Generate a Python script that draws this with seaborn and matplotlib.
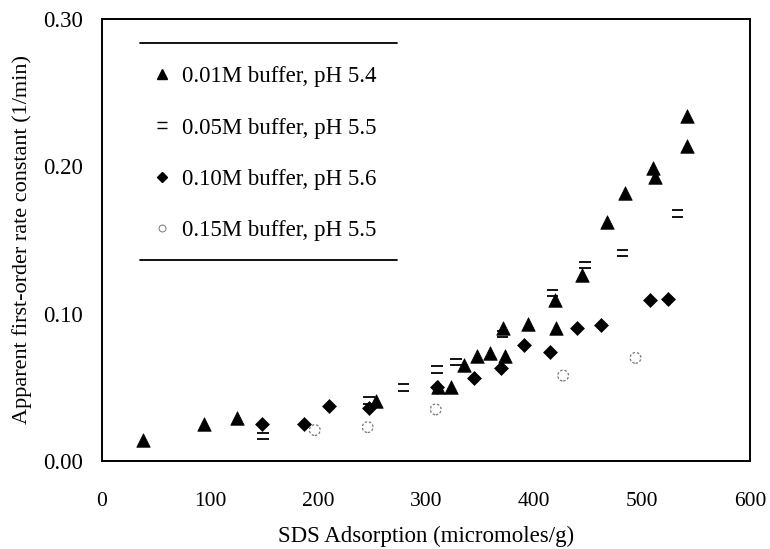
import numpy as np
import pandas as pd
import matplotlib
matplotlib.use("Agg")
import matplotlib.pyplot as plt
from matplotlib.path import Path
from matplotlib.lines import Line2D
from matplotlib.ticker import MultipleLocator, FormatStrFormatter
import seaborn as sns

# ---- data ----
tri_x = [38, 94, 125, 254, 311, 323, 335, 347, 359, 373, 371, 394, 419, 420, 444, 468, 484, 510, 512, 542, 542]
tri_y = [0.014, 0.025, 0.029, 0.041, 0.050, 0.050, 0.065, 0.071, 0.073, 0.071, 0.090, 0.093, 0.109, 0.090, 0.126, 0.162, 0.182, 0.199, 0.193, 0.234, 0.214]

sq_x = [149, 247, 279, 310, 328, 371, 417, 447, 482, 533]
sq_y = [0.017, 0.041, 0.050, 0.062, 0.067, 0.086, 0.114, 0.133, 0.141, 0.168]

dia_x = [148, 187, 210, 247, 310, 344, 369, 391, 415, 440, 462, 507, 524]
dia_y = [0.025, 0.025, 0.037, 0.036, 0.050, 0.056, 0.063, 0.079, 0.074, 0.090, 0.092, 0.109, 0.110]
dia_err = [0, 0.003, 0, 0, 0, 0, 0, 0, 0, 0, 0, 0, 0]

cir_x = [197, 246, 309, 427, 494]
cir_y = [0.021, 0.023, 0.035, 0.058, 0.070]

labels = ["0.01M buffer, pH 5.4", "0.05M buffer, pH 5.5",
          "0.10M buffer, pH 5.6", "0.15M buffer, pH 5.5"]
xticks = [0, 100, 200, 300, 400, 500, 600]
yticks = [0.00, 0.10, 0.20, 0.30]

sns.set_theme(style="white")
plt.rcParams["font.family"] = ["Liberation Serif", "DejaVu Serif"]

fig = plt.figure(figsize=(7.7, 5.49), dpi=100)
ax = fig.add_axes([102/770, 1-461/549, 648/770, 442/549])

eq_marker = Path([(-1, 0.55), (1, 0.55), (-1, -0.55), (1, -0.55)],
                 [Path.MOVETO, Path.LINETO, Path.MOVETO, Path.LINETO])

sns.scatterplot(x=tri_x, y=tri_y, marker="^", s=95, color="black",
                edgecolor="black", linewidth=0.5, ax=ax, zorder=3)
sns.scatterplot(x=sq_x, y=sq_y, marker=eq_marker, s=70, facecolor="none",
                edgecolor="black", linewidth=1.3, ax=ax, zorder=3)
ax.errorbar(dia_x, dia_y, yerr=dia_err, fmt="none", ecolor="black",
            elinewidth=1.2, capsize=0, zorder=2)
sns.scatterplot(x=dia_x, y=dia_y, marker="D", s=50, color="black",
                edgecolor="black", linewidth=0.5, ax=ax, zorder=3)
sns.scatterplot(x=cir_x, y=cir_y, marker="o", s=60, facecolor="none",
                edgecolor="#777777", linewidth=0.9, linestyle=(0, (2, 1.5)),
                ax=ax, zorder=3)

ax.set_xlim(0, 600)
ax.set_ylim(0, 0.30)
ax.set_xticks(xticks)
ax.set_yticks(yticks)
ax.yaxis.set_major_formatter(FormatStrFormatter("%.2f"))
ax.xaxis.set_minor_locator(MultipleLocator(20))
ax.yaxis.set_minor_locator(MultipleLocator(0.02))
ax.tick_params(axis="both", which="both", direction="in", color="black",
               labelcolor="black")
ax.tick_params(axis="both", which="major", length=5, width=1.1)
ax.tick_params(axis="both", which="minor", length=4, width=1.0)
ax.tick_params(axis="y", which="major", pad=14, labelsize=16.5)
ax.tick_params(axis="x", which="major", pad=22, labelsize=15.5)
for sp in ax.spines.values():
    sp.set_visible(True)
    sp.set_color("black")
    sp.set_linewidth(1.4)

ax.set_xlabel("SDS Adsorption (micromoles/g)", fontsize=16.5, color="black", labelpad=11)
ax.set_ylabel("Apparent first-order rate constant (1/min)", fontsize=16, color="black", labelpad=8)

handles = [
    Line2D([], [], marker="^", color="black", linestyle="none", markersize=7),
    Line2D([], [], marker=eq_marker, color="black", markerfacecolor="none",
           linestyle="none", markersize=7, markeredgewidth=1.0),
    Line2D([], [], marker="D", color="black", linestyle="none", markersize=5.5),
    Line2D([], [], marker="o", color="#777777", markerfacecolor="none",
           linestyle="none", markersize=5, markeredgewidth=0.7),
]
leg = ax.legend(handles, labels, loc="upper left",
                bbox_to_anchor=(0.061, 0.914), frameon=False,
                fontsize=16.5, labelspacing=1.32, handlelength=1.0,
                handletextpad=0.35, borderaxespad=0)
for t in leg.get_texts():
    t.set_color("black")

ax.plot([(140-102)/648, (397-102)/648], [1-(43-19)/442]*2,
        transform=ax.transAxes, color="black", linewidth=1.3, clip_on=False)
ax.plot([(140-102)/648, (397-102)/648], [1-(260-19)/442]*2,
        transform=ax.transAxes, color="black", linewidth=1.3, clip_on=False)

fig.savefig("out.png", dpi=100, facecolor="white")
